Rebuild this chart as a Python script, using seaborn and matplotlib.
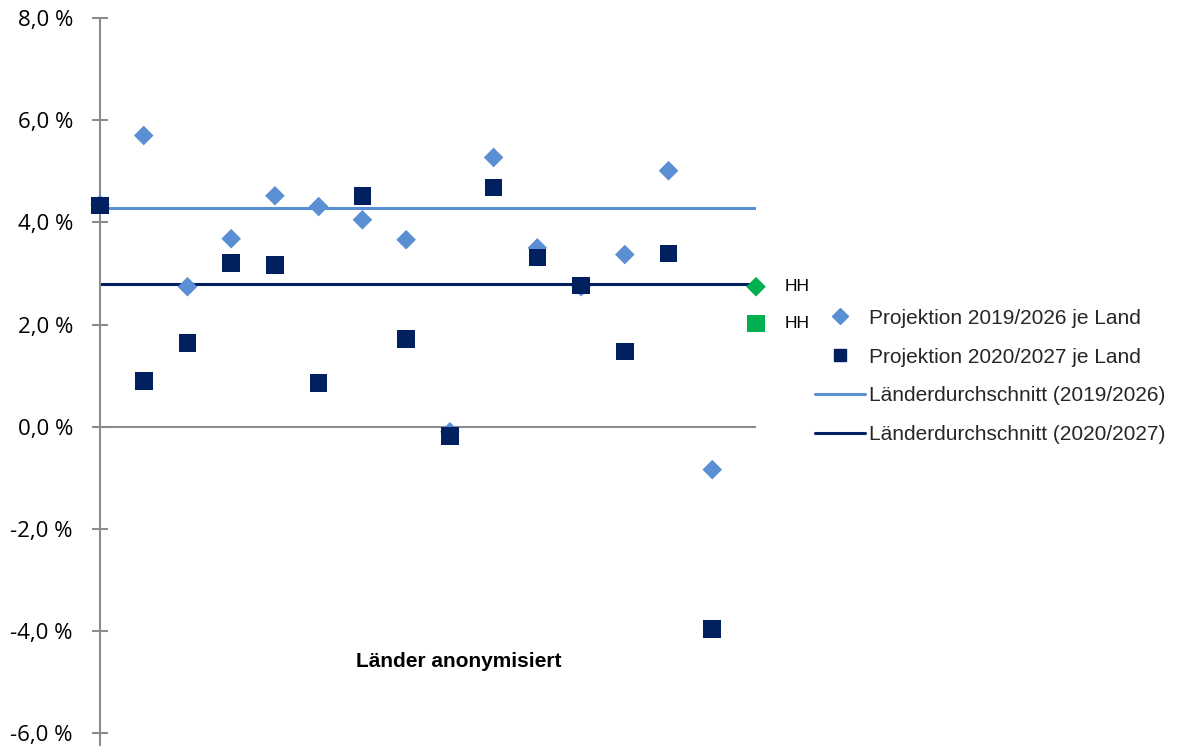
import pandas as pd
import numpy as np
import seaborn as sns
import matplotlib.pyplot as plt
from matplotlib.lines import Line2D

# Werte je Land (anonymisiert), letzter Punkt = HH
laender = list(range(15))
proj_2019 = [4.35, 5.70, 2.74, 3.68, 4.52, 4.31, 4.05, 3.66, -0.10, 5.27, 3.50, 2.74, 3.37, 5.01, -0.84]
proj_2020 = [4.33, 0.90, 1.64, 3.21, 3.17, 0.86, 4.52, 1.72, -0.18, 4.68, 3.31, 2.76, 1.47, 3.39, -3.96]
hh_2019 = 2.74
hh_2020 = 2.02
avg_2019 = 4.28
avg_2020 = 2.79
yticks = [-6, -4, -2, 0, 2, 4, 6, 8]

light_blue = '#5A8FD3'
navy = '#002060'
green = '#00B050'
grey = '#8C8C8C'

df = pd.DataFrame({'land': laender, 'p2019': proj_2019, 'p2020': proj_2020})
pos_all = laender + [15]
avg_df = pd.DataFrame({'pos': pos_all,
                       'a2019': [avg_2019] * len(pos_all),
                       'a2020': [avg_2020] * len(pos_all)})

sns.set_style('white')
fig = plt.figure(figsize=(11.81, 7.46), dpi=100)
# axes from x=100px to 756px, y=18px to 745px
ax = fig.add_axes([100 / 1181, 1 - 745 / 746, 656 / 1181, 727 / 746])

sns.lineplot(data=avg_df, x='pos', y='a2019', color=light_blue, linewidth=2.2, ax=ax, zorder=2)
sns.lineplot(data=avg_df, x='pos', y='a2020', color=navy, linewidth=2.2, ax=ax, zorder=2)
ax.axhline(0, color=grey, linewidth=1.5, zorder=1)

sns.scatterplot(data=df, x='land', y='p2019', marker='D', s=100, color=light_blue,
                edgecolor='none', ax=ax, zorder=3, clip_on=False)
sns.scatterplot(data=df, x='land', y='p2020', marker='s', s=160, color=navy,
                edgecolor='none', ax=ax, zorder=4, clip_on=False)
ax.scatter([15], [hh_2019], marker='D', s=100, color=green, edgecolor='none', zorder=4, clip_on=False)
ax.scatter([15], [hh_2020], marker='s', s=160, color=green, edgecolor='none', zorder=4, clip_on=False)
ax.text(15.65, hh_2019, 'HH', fontsize=12.5, family='Liberation Sans', va='center', color='black')
ax.text(15.65, hh_2020, 'HH', fontsize=12.5, family='Liberation Sans', va='center', color='black')

ax.set_xlim(0, 15)
ax.set_ylim(-6.23, 8)
ax.set_yticks(yticks)
ax.set_yticklabels([f'{v:.1f} %'.replace('.', ',') for v in yticks],
                   fontsize=16, family='Open Sans', color='black')
ax.set_xticks([])
ax.set_xlabel('')
ax.set_ylabel('')
for s in ['top', 'right', 'bottom']:
    ax.spines[s].set_visible(False)
ax.spines['left'].set_color(grey)
ax.spines['left'].set_linewidth(1.5)
ax.tick_params(axis='y', direction='inout', length=11, width=1.5, color=grey, pad=14, left=True)

ax.text(8.2, -4.6, 'Länder anonymisiert', fontsize=15, fontweight='bold',
        family='Liberation Sans', ha='center', va='center', color='black')

handles = [
    Line2D([], [], marker='D', linestyle='none', color=light_blue, markersize=8),
    Line2D([], [], marker='s', linestyle='none', color=navy, markersize=9),
    Line2D([], [], color=light_blue, linewidth=2.2),
    Line2D([], [], color=navy, linewidth=2.2),
]
labels = ['Projektion 2019/2026 je Land', 'Projektion 2020/2027 je Land',
          'Länderdurchschnitt (2019/2026)', 'Länderdurchschnitt (2020/2027)']
fig.legend(handles, labels, loc='upper left', bbox_to_anchor=(796 / 1181, 1 - 290 / 746),
           frameon=False, prop={'family': 'Liberation Sans', 'size': 15},
           labelspacing=0.95, handlelength=2.4, handletextpad=0.2)

plt.savefig('out.png', dpi=100)
